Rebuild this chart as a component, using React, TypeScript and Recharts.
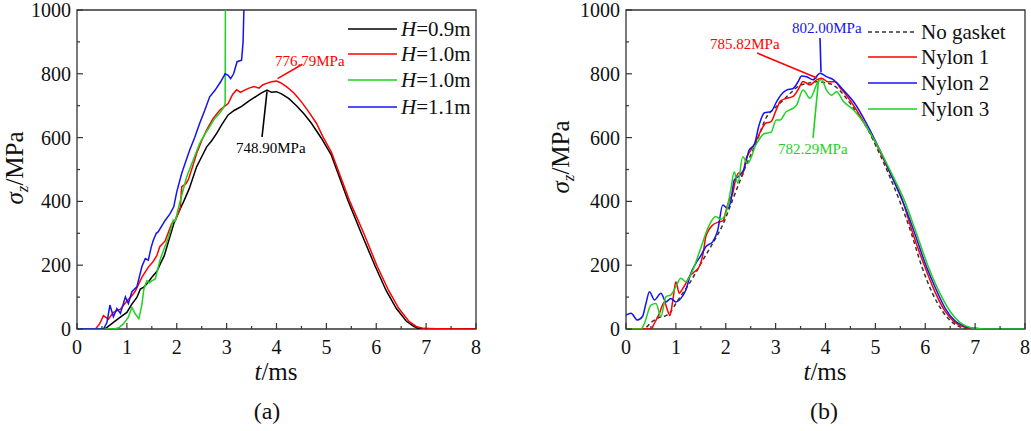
import { LineChart, Line, XAxis, YAxis, ReferenceArea, ReferenceLine } from 'recharts';

const SERIF = "'Liberation Serif', 'Times New Roman', 'DejaVu Serif', serif";
const RED = '#ff0000';
const GREEN = '#1ed21e';
const BLUE = '#1414f0';
const BLACK = '#000000';
const FRAME = '#333333';

// (a) drop height comparison
const tH09 = [0, 0.55, 0.6, 0.73, 0.87, 1.0, 1.1, 1.2, 1.27, 1.34, 1.42, 1.5, 1.6, 1.67, 1.75, 1.81, 1.94, 2.05, 2.14, 2.25, 2.4, 2.5, 2.6, 2.7, 2.8, 2.9, 3.03, 3.15, 3.3, 3.45, 3.6, 3.7, 3.81, 3.9, 4.0, 4.1, 4.25, 4.4, 4.55, 4.7, 4.9, 5.1, 5.44, 5.7, 5.97, 6.2, 6.4, 6.6, 6.75, 6.84, 7.0, 8.0];
const vH09 = [0, 0, 5, 21, 37, 52, 78, 99, 125, 131, 145, 162, 180, 204, 230, 262, 330, 370, 400, 440, 509, 540, 571, 590, 613, 640, 671, 685, 698, 715, 730, 740, 749, 742, 744, 737, 722, 700, 675, 645, 598, 545, 400, 300, 200, 120, 65, 25, 8, 2, 0, 0];

const tH10 = [0, 0.37, 0.45, 0.53, 0.63, 0.73, 0.87, 1.0, 1.08, 1.17, 1.3, 1.43, 1.52, 1.6, 1.66, 1.77, 1.9, 1.97, 2.07, 2.1, 2.18, 2.23, 2.32, 2.4, 2.5, 2.6, 2.73, 2.87, 3.03, 3.12, 3.2, 3.28, 3.35, 3.45, 3.55, 3.65, 3.72, 3.8, 3.9, 4.0, 4.08, 4.2, 4.35, 4.5, 4.65, 4.8, 4.94, 5.1, 5.47, 5.75, 6.01, 6.25, 6.45, 6.65, 6.8, 6.94, 7.2, 8.0];
const vH10 = [0, 0, 15, 42, 31, 52, 62, 88, 100, 119, 162, 194, 210, 230, 258, 277, 331, 340, 380, 446, 455, 467, 510, 551, 590, 624, 660, 687, 707, 735, 750, 742, 748, 755, 760, 755, 765, 770, 775, 777, 772, 760, 740, 712, 680, 645, 600, 555, 400, 300, 200, 120, 65, 25, 8, 2, 1, 0];

const tH10b = [0, 0.75, 0.85, 0.93, 1.03, 1.1, 1.17, 1.24, 1.3, 1.34, 1.4, 1.45, 1.5, 1.57, 1.67, 1.76, 1.84, 1.93, 1.97, 2.05, 2.2, 2.33, 2.46, 2.56, 2.66, 2.76, 2.86, 2.94, 2.97, 2.975, 2.98];
const vH10b = [0, 0, 5, 16, 37, 68, 47, 32, 75, 125, 151, 145, 151, 157, 219, 258, 290, 342, 338, 390, 477, 530, 582, 610, 634, 660, 676, 695, 707, 1000, 1150];

const tH11 = [0, 0.53, 0.6, 0.66, 0.73, 0.8, 0.87, 0.97, 1.03, 1.1, 1.2, 1.3, 1.37, 1.43, 1.49, 1.53, 1.59, 1.63, 1.77, 1.86, 1.94, 2.0, 2.1, 2.18, 2.26, 2.36, 2.46, 2.56, 2.66, 2.77, 2.88, 2.97, 3.03, 3.08, 3.14, 3.21, 3.3, 3.33, 3.37];
const vH11 = [0, 0, 20, 75, 38, 64, 49, 101, 80, 117, 132, 195, 221, 216, 258, 278, 300, 305, 341, 360, 383, 430, 488, 525, 561, 600, 645, 685, 728, 749, 775, 800, 795, 785, 800, 838, 843, 900, 1150];

// (b) gasket comparison
const tNone = [0, 0.35, 0.5, 0.65, 0.8, 0.9, 1.0, 1.15, 1.3, 1.5, 1.65, 1.8, 1.95, 2.1, 2.25, 2.4, 2.6, 2.82, 3.0, 3.15, 3.3, 3.49, 3.65, 3.82, 4.0, 4.16, 4.3, 4.42, 4.55, 4.69, 4.85, 5.02, 5.29, 5.49, 5.7, 5.93, 6.15, 6.35, 6.55, 6.72, 6.86, 7.0, 8.0];
const vNone = [0, 0, 20, 35, 42, 55, 80, 115, 150, 205, 245, 285, 330, 390, 450, 510, 580, 665, 695, 717, 740, 764, 770, 775, 772, 764, 745, 723, 695, 665, 625, 571, 477, 400, 310, 196, 110, 55, 20, 5, 0, 0, 0];

const tNy1 = [0, 0.5, 0.57, 0.67, 0.77, 0.84, 0.88, 0.94, 1.0, 1.07, 1.13, 1.2, 1.27, 1.34, 1.47, 1.55, 1.6, 1.74, 1.87, 1.95, 2.0, 2.07, 2.14, 2.2, 2.27, 2.33, 2.4, 2.5, 2.6, 2.7, 2.8, 2.91, 3.01, 3.1, 3.22, 3.35, 3.45, 3.55, 3.69, 3.82, 3.92, 4.05, 4.19, 4.3, 4.42, 4.62, 4.8, 5.0, 5.2, 5.55, 5.75, 5.99, 6.2, 6.4, 6.6, 6.8, 6.96, 7.2, 8.0];
const vNy1 = [0, 0, 18, 49, 85, 55, 42, 91, 148, 112, 125, 143, 164, 175, 196, 240, 289, 326, 336, 340, 368, 404, 425, 470, 490, 480, 530, 560, 587, 620, 645, 650, 686, 715, 723, 729, 750, 776, 765, 781, 786, 775, 775, 755, 733, 687, 640, 585, 520, 400, 300, 196, 115, 55, 20, 5, 1, 0, 0];

const tNy2 = [0, 0.1, 0.23, 0.33, 0.4, 0.47, 0.57, 0.7, 0.8, 0.9, 1.0, 1.1, 1.2, 1.3, 1.4, 1.5, 1.6, 1.74, 1.84, 1.94, 2.04, 2.1, 2.17, 2.27, 2.37, 2.47, 2.57, 2.67, 2.77, 2.91, 3.02, 3.14, 3.22, 3.35, 3.45, 3.52, 3.62, 3.75, 3.89, 4.02, 4.16, 4.36, 4.56, 4.82, 5.09, 5.36, 5.6, 5.8, 6.0, 6.2, 6.4, 6.6, 6.8, 7.0, 7.2, 8.0];
const vNy2 = [44, 49, 28, 39, 80, 117, 91, 112, 85, 96, 85, 96, 122, 175, 206, 230, 258, 274, 310, 389, 378, 400, 467, 480, 503, 561, 577, 640, 677, 682, 713, 740, 749, 754, 775, 793, 791, 781, 802, 791, 781, 749, 713, 645, 561, 467, 380, 295, 205, 130, 65, 25, 8, 2, 0, 0];

const tNy3 = [0, 0.3, 0.37, 0.5, 0.6, 0.7, 0.8, 0.9, 1.0, 1.1, 1.2, 1.34, 1.5, 1.64, 1.8, 1.9, 2.0, 2.1, 2.17, 2.24, 2.34, 2.44, 2.6, 2.77, 2.91, 3.01, 3.09, 3.21, 3.29, 3.42, 3.55, 3.69, 3.85, 3.92, 4.02, 4.12, 4.22, 4.36, 4.56, 4.82, 5.09, 5.35, 5.59, 5.8, 6.06, 6.3, 6.5, 6.7, 6.9, 7.09, 7.3, 8.0];
const vNy3 = [0, 0, 18, 75, 80, 39, 101, 107, 133, 159, 148, 185, 254, 316, 353, 344, 362, 436, 493, 457, 540, 519, 576, 612, 617, 655, 655, 681, 687, 702, 749, 723, 775, 782, 749, 733, 744, 713, 687, 634, 561, 480, 400, 310, 196, 110, 55, 20, 5, 1, 0, 0];

const xTicks = [0, 0.5, 1, 1.5, 2, 2.5, 3, 3.5, 4, 4.5, 5, 5.5, 6, 6.5, 7, 7.5, 8];
const yTicks = [0, 100, 200, 300, 400, 500, 600, 700, 800, 900, 1000];

const zip = (t: number[], v: number[]) => t.map((x, i) => ({ t: x, v: v[i] }));

// plot box (chart-local): top and bottom are shared, left depends on the panel
const PT = 10;
const PB = 329;
const TXT = { fontFamily: SERIF };

function XTick({ x, payload }: any) {
  const major = Number.isInteger(payload.value);
  return (
    <g>
      <line x1={x} x2={x} y1={PB} y2={PB - (major ? 6 : 3)} stroke={FRAME} strokeWidth={1.2} />
      {major && (
        <text x={x} y={PB + 25} textAnchor="middle" style={TXT} fontSize={20} fill="#111">
          {payload.value}
        </text>
      )}
    </g>
  );
}

function YTick({ y, payload, pl }: any) {
  const major = payload.value % 200 === 0;
  return (
    <g>
      <line x1={pl} x2={pl + (major ? 6 : 3)} y1={y} y2={y} stroke={FRAME} strokeWidth={1.2} />
      {major && (
        <text x={pl - 6} y={y + 7} textAnchor="end" style={TXT} fontSize={20} fill="#111">
          {payload.value}
        </text>
      )}
    </g>
  );
}

type Series = { name: string; data: { t: number; v: number }[]; color: string; dash?: string };
type Note = { text: string; color: string; from: [number, number]; to: [number, number]; x: number; y: number };

function LegendLabel({ name }: { name: string }) {
  if (name.startsWith('H=')) {
    return (
      <>
        <tspan fontStyle="italic">H</tspan>
        {name.slice(1)}
      </>
    );
  }
  return <>{name}</>;
}

function Panel(props: {
  series: Series[];
  notes: Note[];
  curve: 'linear' | 'monotone';
  pl: number;
  width: number;
  legendX: number;
  legendRows: number[];
  tag: string;
  tagX: number;
  titleX: number;
  yLabel: [number, number];
}) {
  const { series, notes, curve, pl, width, legendX, legendRows, tag, tagX, titleX, yLabel } = props;
  return (
    <LineChart width={width} height={431} margin={{ top: PT, right: width - pl - 399, bottom: 72, left: pl - 77 }}>
      <XAxis
        type="number"
        dataKey="t"
        domain={[0, 8]}
        ticks={xTicks}
        interval={0}
        axisLine={false}
        tickLine={false}
        tick={<XTick />}
        height={30}
        allowDataOverflow
      />
      <YAxis
        type="number"
        dataKey="v"
        domain={[0, 1000]}
        ticks={yTicks}
        interval={0}
        axisLine={false}
        tickLine={false}
        tick={<YTick pl={pl} />}
        width={77}
        allowDataOverflow
      />
      {series.map((s) => (
        <Line
          key={s.name}
          data={s.data}
          dataKey="v"
          type={curve}
          stroke={s.color}
          strokeWidth={1.5}
          strokeDasharray={s.dash}
          dot={false}
          activeDot={false}
          isAnimationActive={false}
        />
      ))}
      <ReferenceArea x1={0} x2={8} y1={0} y2={1000} fill="none" fillOpacity={0} stroke={FRAME} strokeWidth={1.3} />
      {notes.map((n) => (
        <ReferenceLine
          key={n.text}
          segment={[
            { x: n.from[0], y: n.from[1] },
            { x: n.to[0], y: n.to[1] },
          ]}
          stroke={n.color}
          strokeWidth={1.6}
        />
      ))}
      {notes.map((n) => (
        <text key={'t' + n.text} x={n.x} y={n.y} style={TXT} fontSize={15} fill={n.color}>
          {n.text}
        </text>
      ))}
      {series.map((s, i) => (
        <g key={'lg' + s.name}>
          <line
            x1={legendX}
            x2={legendX + 49}
            y1={legendRows[i]}
            y2={legendRows[i]}
            stroke={s.color}
            strokeWidth={1.5}
            strokeDasharray={s.dash}
          />
          <text x={legendX + 53} y={legendRows[i] + 7} style={TXT} fontSize={21} fill="#111">
            <LegendLabel name={s.name} />
          </text>
        </g>
      ))}
      <text
        transform={`translate(${yLabel[0]},${yLabel[1]}) rotate(-90)`}
        textAnchor="middle"
        style={TXT}
        fontSize={25}
        fill="#111"
      >
        <tspan fontStyle="italic">σ</tspan>
        <tspan fontStyle="italic" fontSize={17} dy={5}>z</tspan>
        <tspan dy={-5}>/MPa</tspan>
      </text>
      <text x={titleX} y={380} textAnchor="middle" style={TXT} fontSize={25} fill="#111">
        <tspan fontStyle="italic">t</tspan>/ms
      </text>
      <text x={tagX} y={419} textAnchor="middle" style={TXT} fontSize={24} fill="#111">
        {tag}
      </text>
    </LineChart>
  );
}

const seriesA: Series[] = [
  { name: 'H=0.9m', data: zip(tH09, vH09), color: BLACK },
  { name: 'H=1.0m', data: zip(tH10, vH10), color: RED },
  { name: 'H=1.0m ', data: zip(tH10b, vH10b), color: GREEN },
  { name: 'H=1.1m', data: zip(tH11, vH11), color: BLUE },
];

const seriesB: Series[] = [
  { name: 'No gasket', data: zip(tNone, vNone), color: '#333333', dash: '4 3' },
  { name: 'Nylon 1', data: zip(tNy1, vNy1), color: RED },
  { name: 'Nylon 2', data: zip(tNy2, vNy2), color: BLUE },
  { name: 'Nylon 3', data: zip(tNy3, vNy3), color: GREEN },
];

const notesA: Note[] = [
  { text: '776.79MPa', color: RED, from: [4.52, 830], to: [4.02, 785], x: 275, y: 66 },
  { text: '748.90MPa', color: BLACK, from: [3.71, 602], to: [3.81, 745], x: 236, y: 153 },
];

// panel (b) is drawn with its svg starting at page x = 520
const notesB: Note[] = [
  { text: '802.00MPa', color: BLUE, from: [3.89, 912], to: [3.91, 805], x: 272, y: 33 },
  { text: '785.82MPa', color: RED, from: [2.63, 865], to: [3.83, 787], x: 190, y: 49 },
  { text: '782.29MPa', color: GREEN, from: [3.75, 599], to: [3.86, 780], x: 258, y: 154 },
];

export default function App() {
  return (
    <div style={{ position: 'absolute', left: 0, top: 0, width: 1031, height: 431, background: '#fff', fontFamily: SERIF }}>
      <div style={{ position: 'absolute', left: 0, top: 0 }}>
        <Panel
          series={seriesA}
          notes={notesA}
          curve="linear"
          pl={77}
          width={500}
          legendX={348}
          legendRows={[29, 54, 80, 107]}
          tag="(a)"
          tagX={267}
          titleX={276}
          yLabel={[23, 168]}
        />
      </div>
      <div style={{ position: 'absolute', left: 520, top: 0 }}>
        <Panel
          series={seriesB}
          notes={notesB}
          curve="monotone"
          pl={106}
          width={511}
          legendX={348}
          legendRows={[32, 57, 83, 109]}
          tag="(b)"
          tagX={304}
          titleX={305}
          yLabel={[49, 157]}
        />
      </div>
    </div>
  );
}
